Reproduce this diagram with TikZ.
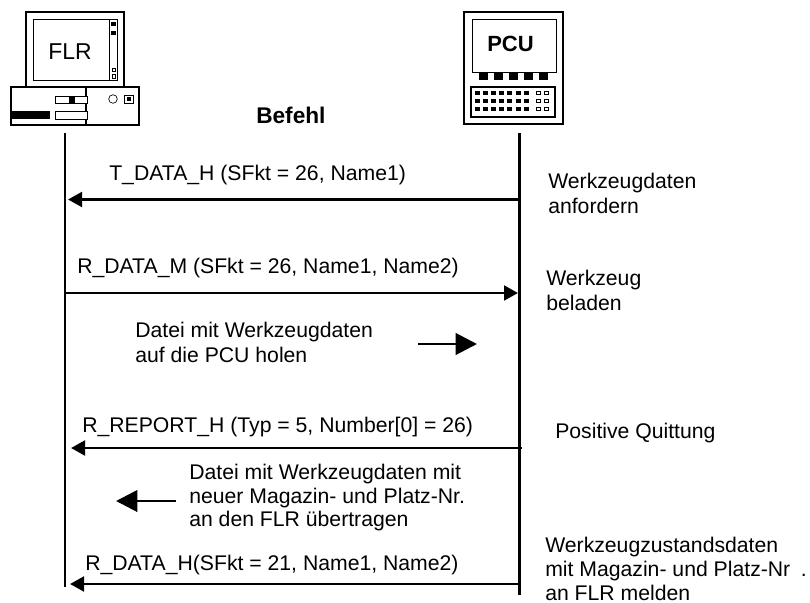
\documentclass[tikz,border=0pt]{standalone}
\usepackage{fontspec}
\setmainfont{Liberation Sans}
\usetikzlibrary{arrows.meta}
\tikzset{
  x=0.75pt,y=-0.75pt,
  lbl/.style={inner sep=0pt,anchor=base west,font=\fontsize{15.9}{15.9}\selectfont},
  multi/.style={lbl,align=left,anchor=north west,font=\fontsize{15.9}{18.75}\selectfont},
  multitight/.style={lbl,align=left,anchor=north west,font=\fontsize{15.9}{17.6}\selectfont},
  multilast/.style={lbl,align=left,anchor=north west,font=\fontsize{15.9}{17.8}\selectfont},
  life/.style={line width=2.2pt},
  msg/.style={line width=2.2pt,-{Triangle[length=10.5pt,width=11pt]}},
  fat/.style={line width=2.2pt,-{Triangle[length=16pt,width=16pt]}},
  heavy/.style={draw=black,line width=1.1pt,fill=white},
  thin box/.style={draw=black,line width=0.5pt,fill=white}
}
\begin{document}
\begin{tikzpicture}
\useasboundingbox (0,0) rectangle (810,603);
% FLR computer
\draw[heavy] (26,12) rectangle (124,87);
\draw[thin box,line width=0.7pt] (33,19) rectangle (117,80);
\draw[thin box] (109,19) rectangle (117,80);
\fill (111,22) rectangle (116,26);
\fill (111,31) rectangle (116,35);
\draw[thin box] (112,68) rectangle (115,71);
\draw[thin box] (112,74) rectangle (115,78);
\draw[heavy] (11,87) rectangle (139,125);
\draw[line width=0.8pt] (86,87) -- (86,125);
\fill (11,111) rectangle (50,119);
\draw[thin box] (55,96) rectangle (87,103);
\fill (69,96) rectangle (75,103);
\draw[thin box] (55,111) rectangle (87,119);
\draw[line width=0.5pt] (113,99) circle (4.3);
\draw[thin box] (124,95) rectangle (133,103);
\fill (126.5,97) rectangle (130.5,101);
\node[lbl,font=\fontsize{17.2}{17.2}\selectfont] (flr) at (48,59) {FLR};
% PCU terminal
\draw[heavy] (464,12) rectangle (563,124);
\draw[thin box,line width=0.7pt] (472,19) rectangle (556,72);
\foreach \i in {0,1,2,3,4} \fill ({479+\i*15},73) rectangle ({487.5+\i*15},80);
\draw[heavy] (471,87) rectangle (555,117);
\foreach \r in {91,99,107} {
  \foreach \i in {0,...,6} \fill ({475+\i*8.1},\r) rectangle ({480+\i*8.1},{\r+4});
  \draw[thin box] (536,{\r+0.3}) rectangle (540,{\r+3.8});
  \draw[thin box] (544,{\r+0.3}) rectangle (548,{\r+3.8});
}
\node[lbl,font=\fontsize{16.5}{16.5}\selectfont\bfseries] (pcu) at (487,51) {PCU};
\node[lbl,font=\fontsize{17}{17}\selectfont\bfseries] (befehl) at (256,123) {Befehl};
% lifelines
\coordinate (ltop) at (65,133); \coordinate (lbot) at (65,587);
\coordinate (rtop) at (519.5,133); \coordinate (rbot) at (519.5,595);
\draw[life] (ltop) -- (lbot);
\draw[life] (rtop) -- (rbot);
% messages
\coordinate (l1) at (68,199.5); \coordinate (r1) at (520,199.5);
\coordinate (l2) at (65,293); \coordinate (r2) at (518,293);
\coordinate (l3) at (71,448); \coordinate (r3) at (522,448);
\coordinate (l4) at (70,584); \coordinate (r4) at (520,584);
\draw[msg] (r1) -- (l1);
\draw[msg] (l2) -- (r2);
\draw[msg] (r3) -- (l3);
\draw[msg] (r4) -- (l4);
\coordinate (a1) at (418,344); \coordinate (a2) at (477,344);
\coordinate (b1) at (176,501); \coordinate (b2) at (116,501);
\draw[fat] (a1) -- (a2);
\draw[fat] (b1) -- (b2);
% message labels
\node[lbl] (m1) at (109,180) {T\_DATA\_H (SFkt = 26, Name1)};
\node[lbl] (m2) at (77,273) {R\_DATA\_M (SFkt = 26, Name1, Name2)};
\node[lbl] (m3) at (82,432) {R\_REPORT\_H (Typ = 5, Number[0] = 26)};
\node[lbl] (m4) at (85,570) {R\_DATA\_H(SFkt = 21, Name1, Name2)};
\node[multi] (n1) at (135,322) {Datei mit Werkzeugdaten\\auf die PCU holen};
\node[multitight] (n2) at (189,464) {Datei mit Werkzeugdaten mit\\neuer Magazin- und Platz-Nr.\\an den FLR übertragen};
% right notes
\node[multi] (w1) at (548,173) {Werkzeugdaten\\anfordern};
\node[multi] (w2) at (546,270) {Werkzeug\\beladen};
\node[lbl] (w3) at (555,438) {Positive Quittung};
\node[multilast] (w4) at (545,537) {Werkzeugzustandsdaten\\mit Magazin- und Platz-Nr\hspace{0.5em}.\\an FLR melden};
\end{tikzpicture}
\end{document}
